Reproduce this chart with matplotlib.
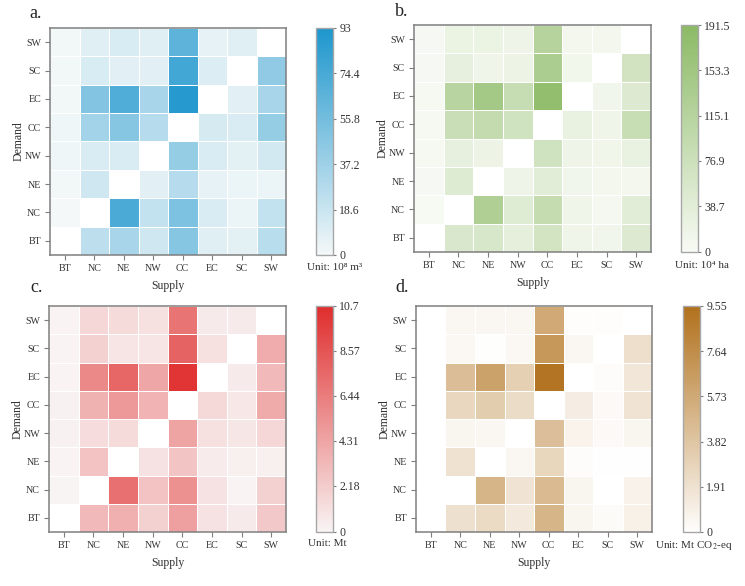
#!/usr/bin/env python3
# plot.py
import matplotlib
matplotlib.use("Agg")
import matplotlib.pyplot as plt
import numpy as np
from matplotlib.colors import LinearSegmentedColormap

plt.rcParams['font.family'] = ['Liberation Serif', 'DejaVu Serif']
plt.rcParams['mathtext.fontset'] = 'stix'

W, H = 745, 586
GREY = '#7f7f7f'
TEXT = '#333333'

supply = ['BT', 'NC', 'NE', 'NW', 'CC', 'EC', 'SC', 'SW']
demand = ['SW', 'SC', 'EC', 'CC', 'NW', 'NE', 'NC', 'BT']  # top to bottom

nan = np.nan
water = [
    [2, 10, 13, 10, 66, 7, 10, nan],
    [2, 13, 9, 9, 78, 11, nan, 44],
    [2, 50, 72, 34, 90, nan, 9, 34],
    [3, 36, 48, 28, nan, 14, 12, 42],
    [3, 12, 12, nan, 42, 12, 8, 15],
    [2, 17, nan, 9, 28, 7, 5, 5],
    [1, nan, 74, 22, 52, 12, 5, 22],
    [nan, 25, 34, 17, 48, 10, 8, 27],
]
land = [
    [5, 25, 25, 20, 118, 11, 11, nan],
    [5, 32, 18, 22, 135, 13, nan, 70],
    [6, 115, 150, 90, 180, nan, 15, 50],
    [7, 85, 95, 72, nan, 28, 17, 88],
    [6, 32, 21, nan, 72, 20, 16, 28],
    [5, 47, nan, 20, 42, 14, 11, 11],
    [4, nan, 130, 45, 92, 18, 8, 42],
    [nan, 56, 60, 35, 68, 18, 14, 50],
]
nitrogen = [
    [0.2, 1.7, 1.5, 1.2, 7.0, 0.7, 0.7, nan],
    [0.2, 2.0, 1.0, 1.0, 7.9, 1.2, nan, 4.0],
    [0.2, 5.9, 7.7, 4.3, 10.4, nan, 0.7, 3.3],
    [0.3, 3.7, 5.0, 3.6, nan, 1.6, 0.8, 4.1],
    [0.3, 1.4, 1.5, nan, 4.4, 1.2, 0.9, 1.7],
    [0.2, 2.8, nan, 1.1, 2.7, 0.6, 0.4, 0.4],
    [0.1, nan, 7.2, 2.8, 5.5, 1.1, 0.2, 2.0],
    [nan, 3.3, 3.8, 2.0, 4.6, 1.1, 0.7, 2.5],
]
carbon = [
    [0, 0.6, 0.6, 0.6, 5.8, 0.15, 0.15, nan],
    [0, 0.5, 0.1, 0.5, 7.0, 0.6, nan, 2.2],
    [0, 4.4, 6.3, 3.2, 9.3, nan, 0.2, 1.7],
    [0, 2.7, 3.4, 2.4, nan, 1.2, 0.4, 1.9],
    [0, 0.7, 0.6, nan, 4.3, 0.8, 0.4, 0.7],
    [0, 2.0, nan, 0.6, 2.8, 0.2, 0.05, 0.05],
    [0, nan, 5.0, 1.9, 4.7, 0.7, 0.02, 0.9],
    [nan, 2.1, 2.5, 1.5, 5.0, 0.7, 0.3, 1.0],
]

water_ticks = [0, 18.6, 37.2, 55.8, 74.4, 93]
land_ticks = [0, 38.7, 76.9, 115.1, 153.3, 191.5]
nitrogen_ticks = [0, 2.18, 4.31, 6.44, 8.57, 10.7]
carbon_ticks = [0, 1.91, 3.82, 5.73, 7.64, 9.55]


def px_axes(fig, left, top, right, bottom):
    # axes from pixel box, y counted from the top of the image
    return fig.add_axes([left / W, 1 - bottom / H, (right - left) / W, (bottom - top) / H])


def draw_panel(fig, values, ticks, color, low, letter, box, cbox, letter_xy, unit, unit_xy):
    cmap = LinearSegmentedColormap.from_list(letter, [low, color])
    cmap.set_bad('white')
    vmax = ticks[-1]

    ax = px_axes(fig, *box)
    data = np.ma.masked_invalid(np.array(values, dtype=float)[::-1])
    mesh = ax.pcolormesh(data, cmap=cmap, vmin=0, vmax=vmax, edgecolors='white', linewidth=0.5)
    ax.set_xticks(np.arange(len(supply)) + 0.5, supply)
    ax.set_yticks(np.arange(len(demand)) + 0.5, demand[::-1])
    ax.tick_params(length=3.5, width=0.8, color=GREY, labelsize=7.2, labelcolor=TEXT, pad=3)
    ax.set_xlabel('Supply', fontsize=8.5, color=TEXT, labelpad=5)
    ax.set_ylabel('Demand', fontsize=8.5, color=TEXT, labelpad=0)
    for spine in ax.spines.values():
        spine.set_color(GREY)
        spine.set_linewidth(1.1)

    cax = px_axes(fig, *cbox)
    cb = fig.colorbar(mesh, cax=cax)
    cb.solids.set_edgecolor('face')
    cb.set_ticks(ticks, labels=[f'{t:g}' for t in ticks])
    cb.ax.tick_params(length=2.5, width=0.8, color=GREY, labelsize=8.5, labelcolor=TEXT, pad=2)
    cb.outline.set_edgecolor('#a6a6a6')
    cb.outline.set_linewidth(1.0)

    fig.text(letter_xy[0] / W, 1 - letter_xy[1] / H, letter, fontsize=13, color='#222222',
             ha='left', va='center')
    fig.text(unit_xy[0] / W, 1 - unit_xy[1] / H, unit, fontsize=8, color=TEXT,
             ha='center', va='center')


fig = plt.figure(figsize=(W / 100, H / 100), dpi=100)

draw_panel(fig, water, water_ticks, '#1f97cd', '#f6f9f9', 'a.',
           (50, 28, 286, 255), (316, 28, 333, 255), (29, 13),
           'Unit: 10\u2078 m\u00b3', (335, 268))
draw_panel(fig, land, land_ticks, '#8cba66', '#f9fbf6', 'b.',
           (414, 25, 651, 252), (681, 25, 698, 252), (395, 12),
           'Unit: 10\u2074 ha', (702, 265))
draw_panel(fig, nitrogen, nitrogen_ticks, '#e02f2f', '#f9f6f6', 'c.',
           (49, 306, 286, 532), (316, 306, 333, 532), (30, 287),
           'Unit: Mt', (327, 543))
draw_panel(fig, carbon, carbon_ticks, '#b1721e', '#ffffff', 'd.',
           (416, 306, 652, 532), (683, 306, 700, 532), (395, 287),
           r'Unit: Mt CO$_{2}$-eq', (694, 545))

fig.savefig('out.png', dpi=100)
